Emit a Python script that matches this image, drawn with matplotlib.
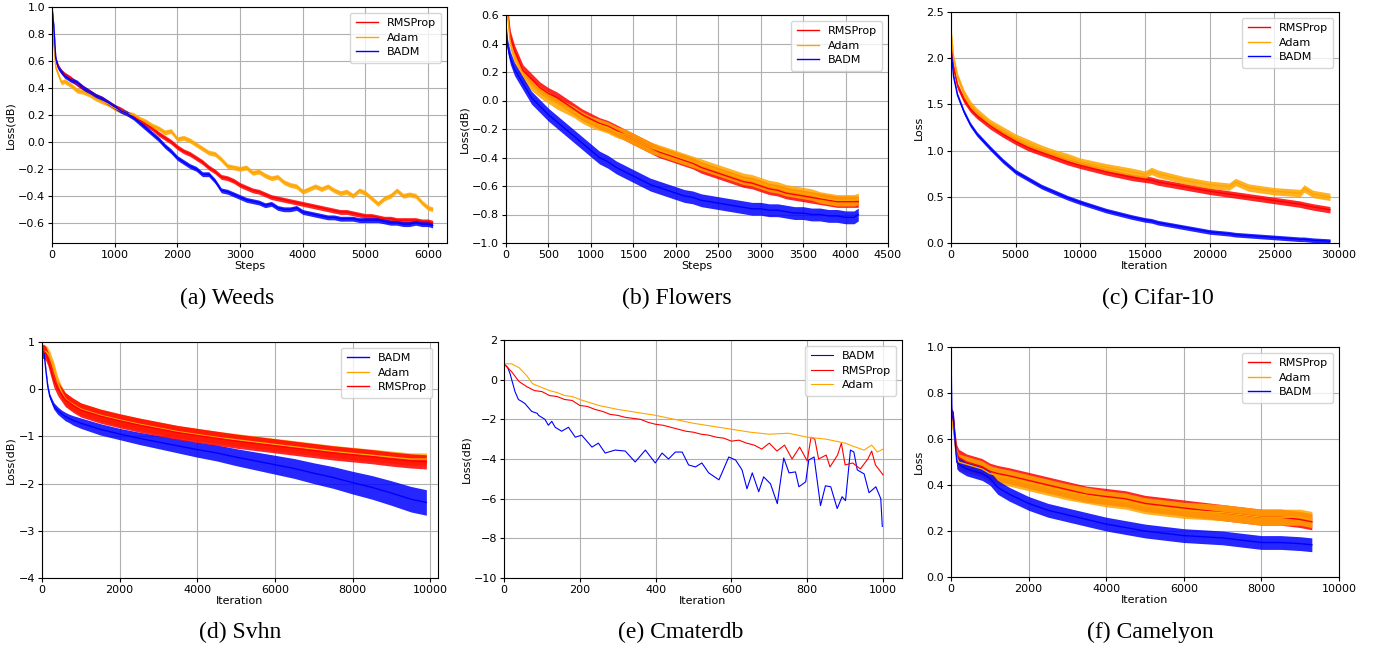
"""Six loss curves of RMSProp / Adam / BADM on several datasets"""
from matplotlib import pyplot as plt
import numpy as np

C_RMS = "red"
C_ADAM = "orange"
C_BADM = "blue"

# ---------------- (a) Weeds ----------------
weeds_x = [0, 30, 60, 100, 150, 200, 300, 400, 500, 600, 700, 800, 900, 1000, 1100, 1200, 1300, 1400,
           1500, 1600, 1700, 1800, 1900, 2000, 2100, 2200, 2300, 2400, 2500, 2600, 2700, 2800, 2900,
           3000, 3100, 3200, 3300, 3400, 3500, 3600, 3700, 3800, 3900, 4000, 4100, 4200, 4300, 4400,
           4500, 4600, 4700, 4800, 4900, 5000, 5100, 5200, 5300, 5400, 5500, 5600, 5700, 5800, 5900,
           6000, 6070]
weeds_rms = [0.95, 0.75, 0.60, 0.56, 0.52, 0.50, 0.47, 0.43, 0.40, 0.37, 0.34, 0.32, 0.29, 0.26, 0.24,
             0.21, 0.19, 0.16, 0.13, 0.10, 0.06, 0.03, 0.00, -0.04, -0.07, -0.09, -0.12, -0.15, -0.19,
             -0.22, -0.26, -0.27, -0.29, -0.32, -0.34, -0.36, -0.37, -0.39, -0.41, -0.42, -0.43, -0.44,
             -0.45, -0.46, -0.47, -0.48, -0.49, -0.50, -0.51, -0.52, -0.52, -0.53, -0.54, -0.55, -0.55,
             -0.56, -0.57, -0.57, -0.58, -0.58, -0.58, -0.58, -0.59, -0.59, -0.60]
weeds_adam = [0.95, 0.75, 0.55, 0.50, 0.44, 0.45, 0.42, 0.38, 0.37, 0.35, 0.32, 0.30, 0.28, 0.25, 0.23,
              0.21, 0.20, 0.17, 0.15, 0.12, 0.10, 0.07, 0.08, 0.02, 0.03, 0.01, -0.02, -0.05, -0.08,
              -0.09, -0.13, -0.18, -0.19, -0.20, -0.19, -0.23, -0.22, -0.25, -0.27, -0.26, -0.30, -0.32,
              -0.33, -0.37, -0.35, -0.33, -0.35, -0.33, -0.36, -0.38, -0.37, -0.40, -0.36, -0.38, -0.42,
              -0.46, -0.42, -0.40, -0.36, -0.40, -0.39, -0.40, -0.45, -0.49, -0.50]
weeds_badm = [1.00, 0.85, 0.62, 0.55, 0.52, 0.49, 0.46, 0.44, 0.40, 0.37, 0.34, 0.32, 0.29, 0.26, 0.23,
              0.21, 0.18, 0.14, 0.10, 0.06, 0.02, -0.03, -0.07, -0.12, -0.15, -0.18, -0.20, -0.24, -0.24,
              -0.29, -0.36, -0.37, -0.39, -0.41, -0.43, -0.44, -0.45, -0.47, -0.46, -0.49, -0.50, -0.50,
              -0.49, -0.52, -0.53, -0.54, -0.55, -0.56, -0.56, -0.57, -0.57, -0.57, -0.58, -0.58, -0.58,
              -0.58, -0.59, -0.60, -0.60, -0.61, -0.61, -0.60, -0.61, -0.61, -0.62]
weeds_spread = [0.018, 0.018, 0.018]

# ---------------- (b) Flowers ----------------
flowers_x = [0, 20, 50, 100, 200, 300, 400, 500, 600, 700, 800, 900, 1000, 1100, 1200, 1300, 1400,
             1500, 1600, 1700, 1800, 1900, 2000, 2100, 2200, 2300, 2400, 2500, 2600, 2700, 2800, 2900,
             3000, 3100, 3200, 3300, 3400, 3500, 3600, 3700, 3800, 3900, 4000, 4100, 4150]
flowers_rms = [0.80, 0.62, 0.45, 0.35, 0.21, 0.15, 0.09, 0.05, 0.02, -0.02, -0.06, -0.10, -0.13,
               -0.16, -0.18, -0.21, -0.24, -0.27, -0.30, -0.33, -0.36, -0.38, -0.40, -0.42, -0.44,
               -0.47, -0.49, -0.51, -0.53, -0.55, -0.57, -0.58, -0.60, -0.62, -0.63, -0.65, -0.66,
               -0.67, -0.68, -0.69, -0.70, -0.71, -0.71, -0.71, -0.71]
flowers_adam = [0.75, 0.60, 0.40, 0.30, 0.18, 0.11, 0.06, 0.02, -0.02, -0.05, -0.08, -0.12, -0.15,
                -0.17, -0.19, -0.22, -0.24, -0.27, -0.30, -0.33, -0.35, -0.37, -0.39, -0.41, -0.43,
                -0.45, -0.47, -0.49, -0.51, -0.53, -0.55, -0.56, -0.58, -0.60, -0.61, -0.63, -0.64,
                -0.65, -0.66, -0.68, -0.69, -0.70, -0.70, -0.70, -0.69]
flowers_badm = [0.50, 0.38, 0.30, 0.22, 0.12, 0.02, -0.04, -0.10, -0.15, -0.20, -0.25, -0.30, -0.35,
                -0.40, -0.43, -0.47, -0.50, -0.53, -0.56, -0.59, -0.61, -0.63, -0.65, -0.67, -0.68,
                -0.70, -0.71, -0.72, -0.73, -0.74, -0.75, -0.76, -0.76, -0.77, -0.77, -0.78, -0.79,
                -0.79, -0.80, -0.80, -0.81, -0.81, -0.82, -0.82, -0.80]
flowers_spread = [0.04, 0.04, 0.045]

# ---------------- (c) Cifar-10 ----------------
cifar_x = [0, 200, 500, 1000, 1500, 2000, 3000, 4000, 5000, 6000, 7000, 8000, 9000, 10000, 12000,
           14000, 15000, 15500, 16000, 18000, 20000, 21500, 22000, 23000, 25000, 27000, 27300, 28000,
           29300]
cifar_rms = [2.20, 1.90, 1.70, 1.55, 1.45, 1.38, 1.27, 1.18, 1.10, 1.03, 0.98, 0.93, 0.88, 0.84, 0.77,
             0.71, 0.69, 0.68, 0.66, 0.61, 0.56, 0.53, 0.52, 0.50, 0.46, 0.42, 0.41, 0.39, 0.36]
cifar_adam = [2.30, 2.00, 1.80, 1.62, 1.50, 1.42, 1.30, 1.22, 1.14, 1.08, 1.02, 0.97, 0.93, 0.88, 0.82,
              0.77, 0.74, 0.78, 0.75, 0.68, 0.63, 0.61, 0.66, 0.60, 0.56, 0.54, 0.59, 0.53, 0.50]
cifar_badm = [2.10, 1.80, 1.60, 1.42, 1.28, 1.18, 1.03, 0.89, 0.77, 0.69, 0.61, 0.55, 0.49, 0.44, 0.35,
              0.28, 0.25, 0.24, 0.22, 0.17, 0.12, 0.10, 0.09, 0.08, 0.06, 0.04, 0.04, 0.03, 0.02]
cifar_spread = [0.035, 0.04, 0.025]

# ---------------- (d) Svhn ----------------
svhn_x = [0, 50, 100, 150, 200, 300, 400, 500, 600, 700, 800, 1000, 1500, 2000, 2500, 3000, 3500,
          4000, 4500, 5000, 5500, 6000, 6500, 7000, 7500, 8000, 8500, 9000, 9500, 9900]
svhn_badm = [0.80, 0.80, 0.40, 0.05, -0.15, -0.35, -0.45, -0.52, -0.58, -0.62, -0.66, -0.72, -0.85,
             -0.95, -1.04, -1.12, -1.20, -1.28, -1.35, -1.44, -1.52, -1.60, -1.68, -1.78, -1.87,
             -1.98, -2.08, -2.20, -2.33, -2.40]
svhn_adam = [0.80, 0.80, 0.80, 0.75, 0.68, 0.45, 0.15, -0.05, -0.20, -0.27, -0.32, -0.42, -0.55,
             -0.65, -0.74, -0.82, -0.90, -0.96, -1.02, -1.07, -1.12, -1.17, -1.22, -1.27, -1.32,
             -1.36, -1.40, -1.44, -1.48, -1.48]
svhn_rms = [0.80, 0.80, 0.75, 0.65, 0.50, 0.20, 0.02, -0.10, -0.22, -0.28, -0.34, -0.44, -0.57,
            -0.67, -0.76, -0.84, -0.92, -0.98, -1.04, -1.10, -1.15, -1.20, -1.25, -1.30, -1.35,
            -1.39, -1.43, -1.48, -1.52, -1.54]
svhn_badm_spread = [0.0, 0.0, 0.02, 0.04, 0.05, 0.07, 0.08, 0.08, 0.09, 0.09, 0.10, 0.11, 0.12, 0.12,
                    0.13, 0.14, 0.15, 0.16, 0.17, 0.18, 0.19, 0.20, 0.21, 0.22, 0.23, 0.24, 0.25, 0.26,
                    0.27, 0.27]
svhn_spread = [0.13, 0.15]  # adam, rmsprop

# ---------------- (e) Cmaterdb ----------------
cmater_badm_x = [0, 10, 16, 29, 38, 47, 55, 73, 88, 91, 108, 117, 126, 135, 152, 170, 188, 205, 232,
                 249, 267, 293, 320, 346, 373, 399, 417, 434, 452, 470, 487, 505, 522, 540, 567, 575,
                 593, 611, 628, 641, 655, 672, 685, 703, 721, 738, 752, 769, 778, 796, 804, 818, 835,
                 848, 862, 879, 892, 901, 914, 923, 932, 950, 963, 981, 994, 998]
cmater_badm = [0.8, 0.6, 0.3, -0.6, -1.0, -1.1, -1.2, -1.6, -1.7, -1.8, -2.0, -2.3, -2.1, -2.4, -2.6,
               -2.4, -2.9, -2.8, -3.4, -3.2, -3.7, -3.55, -3.6, -4.15, -3.55, -4.2, -3.7, -4.0, -3.65,
               -3.65, -4.3, -4.4, -4.2, -4.7, -5.05, -4.7, -3.9, -4.05, -4.55, -5.5, -4.7, -5.65,
               -4.9, -5.25, -6.25, -3.95, -4.7, -4.65, -5.4, -5.15, -4.05, -3.9, -6.35, -5.35, -5.4,
               -6.5, -5.9, -6.1, -3.55, -3.65, -4.55, -4.75, -5.7, -5.4, -6.0, -7.4]
cmater_rms_x = [0, 20, 40, 60, 80, 100, 120, 140, 160, 180, 200, 220, 240, 260, 280, 300, 320, 340,
                360, 380, 400, 420, 440, 460, 480, 500, 520, 540, 560, 580, 600, 620, 640, 660, 680,
                700, 720, 740, 760, 780, 800, 810, 820, 830, 850, 860, 880, 890, 900, 920, 940, 960,
                970, 980, 1000]
cmater_rms = [0.8, 0.4, -0.1, -0.35, -0.55, -0.6, -0.8, -0.85, -1.0, -1.05, -1.3, -1.35, -1.5, -1.6,
              -1.75, -1.8, -1.9, -1.95, -2.0, -2.15, -2.25, -2.3, -2.4, -2.5, -2.6, -2.65, -2.75,
              -2.8, -2.9, -2.95, -3.1, -3.05, -3.2, -3.3, -3.5, -3.2, -3.6, -3.3, -4.0, -3.4, -4.1,
              -2.9, -3.0, -4.0, -3.8, -4.4, -3.8, -3.2, -4.3, -4.2, -4.5, -4.0, -3.6, -4.3, -4.8]
cmater_adam_x = [0, 20, 40, 60, 75, 100, 120, 140, 160, 180, 200, 250, 300, 350, 400, 450, 500, 550,
                 600, 650, 700, 750, 800, 850, 900, 920, 950, 970, 985, 1000]
cmater_adam = [0.8, 0.8, 0.6, 0.2, -0.2, -0.4, -0.55, -0.65, -0.8, -0.85, -1.0, -1.3, -1.5, -1.65,
               -1.8, -2.0, -2.2, -2.35, -2.5, -2.65, -2.75, -2.7, -2.9, -3.0, -3.2, -3.35, -3.55,
               -3.3, -3.65, -3.5]

# ---------------- (f) Camelyon ----------------
camel_x = [0, 20, 60, 100, 150, 200, 400, 600, 800, 1000, 1200, 1500, 2000, 2500, 3000, 3500, 4000,
           4500, 5000, 5500, 6000, 6500, 7000, 7500, 8000, 8500, 9000, 9300]
camel_rms = [0.75, 0.70, 0.68, 0.60, 0.54, 0.52, 0.50, 0.49, 0.48, 0.46, 0.45, 0.44, 0.42, 0.40, 0.38,
             0.36, 0.35, 0.34, 0.32, 0.31, 0.30, 0.29, 0.28, 0.27, 0.26, 0.26, 0.25, 0.24]
camel_adam = [0.70, 0.68, 0.66, 0.58, 0.52, 0.50, 0.49, 0.48, 0.47, 0.45, 0.44, 0.43, 0.41, 0.39, 0.37,
              0.355, 0.34, 0.33, 0.31, 0.30, 0.29, 0.285, 0.28, 0.27, 0.26, 0.26, 0.26, 0.25]
camel_badm = [1.00, 0.70, 0.69, 0.60, 0.50, 0.49, 0.47, 0.46, 0.45, 0.43, 0.39, 0.36, 0.32, 0.29, 0.27,
              0.25, 0.23, 0.215, 0.20, 0.19, 0.18, 0.175, 0.17, 0.16, 0.15, 0.15, 0.145, 0.14]
camel_spread = [0.035, 0.035, 0.03]


def px_axes(fig, left, top, right, bottom):
    """add axes from a pixel box of the 1376x648 canvas"""
    W, H = 1376.0, 648.0
    return fig.add_axes([left / W, 1 - bottom / H, (right - left) / W, (bottom - top) / H])


def draw_curve(ax, x, y, color, label, spread=0.0, lw=1.0):
    x = np.asarray(x, float)
    y = np.asarray(y, float)
    s = np.broadcast_to(np.asarray(spread, float), y.shape)
    if np.any(s > 0):
        ax.fill_between(x, y - s, y + s, color=color, alpha=0.85, lw=0)
    ax.plot(x, y, color=color, lw=lw, label=label)


def style(ax, xlim, ylim, xlabel, ylabel, yticks=None):
    ax.set_xlim(*xlim)
    ax.set_ylim(*ylim)
    if yticks is not None:
        ax.set_yticks(yticks)
    ax.grid(True, color="#b0b0b0", lw=0.8)
    ax.set_axisbelow(True)
    ax.tick_params(labelsize=8, length=3, pad=2)
    ax.set_xlabel(xlabel, fontsize=8, labelpad=1)
    ax.set_ylabel(ylabel, fontsize=8, labelpad=2)
    ax.legend(loc="upper right", fontsize=8, handlelength=2.0, borderpad=0.5, labelspacing=0.4)


fig = plt.figure(figsize=(13.76, 6.48), dpi=100)

ax = px_axes(fig, 52, 7, 447, 243)
draw_curve(ax, weeds_x, weeds_rms, C_RMS, "RMSProp", weeds_spread[0])
draw_curve(ax, weeds_x, weeds_adam, C_ADAM, "Adam", weeds_spread[1])
draw_curve(ax, weeds_x, weeds_badm, C_BADM, "BADM", weeds_spread[2])
style(ax, (0, 6300), (-0.75, 1.0), "Steps", "Loss(dB)", np.arange(-0.6, 1.01, 0.2))

ax = px_axes(fig, 506, 15, 888, 243)
draw_curve(ax, flowers_x, flowers_rms, C_RMS, "RMSProp", flowers_spread[0])
draw_curve(ax, flowers_x, flowers_adam, C_ADAM, "Adam", flowers_spread[1])
draw_curve(ax, flowers_x, flowers_badm, C_BADM, "BADM", flowers_spread[2])
style(ax, (0, 4500), (-1.0, 0.6), "Steps", "Loss(dB)", np.arange(-1.0, 0.61, 0.2))

ax = px_axes(fig, 951, 12, 1339, 243)
draw_curve(ax, cifar_x, cifar_rms, C_RMS, "RMSProp", cifar_spread[0])
draw_curve(ax, cifar_x, cifar_adam, C_ADAM, "Adam", cifar_spread[1])
draw_curve(ax, cifar_x, cifar_badm, C_BADM, "BADM", cifar_spread[2])
style(ax, (0, 30000), (0, 2.5), "Iteration", "Loss")

ax = px_axes(fig, 42, 342, 438, 578)
draw_curve(ax, svhn_x, svhn_badm, C_BADM, "BADM", svhn_badm_spread)
draw_curve(ax, svhn_x, svhn_adam, C_ADAM, "Adam", svhn_spread[0])
draw_curve(ax, svhn_x, svhn_rms, C_RMS, "RMSProp", svhn_spread[1])
style(ax, (0, 10200), (-4, 1), "Iteration", "Loss(dB)")

ax = px_axes(fig, 504, 340, 902, 578)
draw_curve(ax, cmater_badm_x, cmater_badm, C_BADM, "BADM", lw=0.8)
draw_curve(ax, cmater_rms_x, cmater_rms, C_RMS, "RMSProp", lw=0.8)
draw_curve(ax, cmater_adam_x, cmater_adam, C_ADAM, "Adam", lw=0.8)
style(ax, (0, 1050), (-10, 2), "Iteration", "Loss(dB)")

ax = px_axes(fig, 951, 347, 1339, 577)
draw_curve(ax, camel_x, camel_rms, C_RMS, "RMSProp", camel_spread[0])
draw_curve(ax, camel_x, camel_adam, C_ADAM, "Adam", camel_spread[1])
draw_curve(ax, camel_x, camel_badm, C_BADM, "BADM", camel_spread[2])
style(ax, (0, 10000), (0, 1.0), "Iteration", "Loss")

captions = ["(a) Weeds", "(b) Flowers", "(c) Cifar-10", "(d) Svhn", "(e) Cmaterdb", "(f) Camelyon"]
cap_x = [227, 677, 1158, 240, 681, 1150]
cap_y = [298, 298, 298, 632, 632, 632]
for t, cx, cy in zip(captions, cap_x, cap_y):
    fig.text(cx / 1376, 1 - cy / 648, t, ha="center", va="center", fontsize=17, family="Liberation Serif")

fig.savefig("out.png", dpi=100)
